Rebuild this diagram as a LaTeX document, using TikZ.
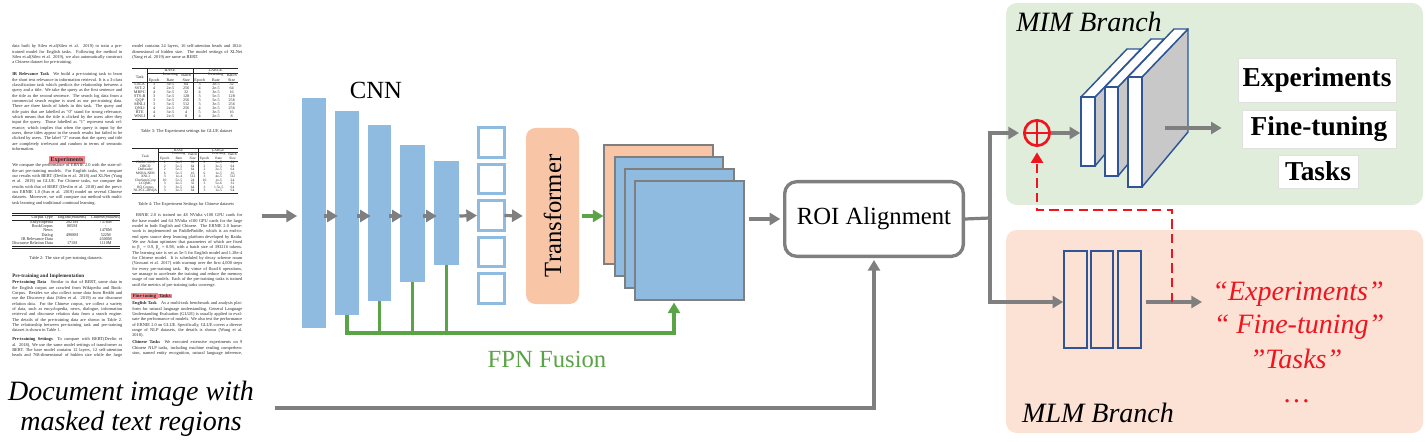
\documentclass[tikz,border=0pt]{standalone}
\usepackage{fontspec}
\usepackage{graphicx}
\setmainfont{Liberation Serif}
\usetikzlibrary{arrows.meta,fit,calc}
\definecolor{cnnblue}{HTML}{8FBBE0}
\definecolor{peach}{HTML}{F9C5A7}
\definecolor{arrgray}{HTML}{7F7F7F}
\definecolor{fpngreen}{HTML}{5AA346}
\definecolor{mimbg}{HTML}{DFEDDA}
\definecolor{mlmbg}{HTML}{FCE1D5}
\definecolor{slabblue}{HTML}{2F5597}
\definecolor{slabgray}{HTML}{C8C8C8}
\definecolor{redc}{HTML}{F0141E}
\definecolor{hl}{HTML}{F2868D}
\newlength{\cw}\setlength{\cw}{82.5pt}
\newcommand{\jl}[1]{\makebox[\cw][s]{#1}\\}
\newcommand{\doctxt}{\fontsize{3.3}{4.0}\selectfont}
\newcommand{\mainlab}{\fontsize{18.5}{22}\selectfont}
\newcommand{\caplab}{\fontsize{21}{25}\selectfont\itshape}
\newcommand{\brlab}{\fontsize{21}{25}\selectfont\itshape}
\newcommand{\boldlab}{\fontsize{20.5}{24}\selectfont\bfseries}
\newcommand{\tabfont}{\fontsize{5}{5.6}\selectfont\setlength{\tabcolsep}{2pt}\renewcommand{\arraystretch}{0.9}}
\newcommand{\sethead}{\hline
 & \multicolumn{3}{c|}{BASE} & \multicolumn{3}{c}{LARGE}\\ \cline{2-7}
 \raisebox{1.2ex}[0pt][0pt]{Task} & Epoch & \shortstack{Learning\\Rate} & \shortstack{Batch\\Size} & Epoch & \shortstack{Learning\\Rate} & \shortstack{Batch\\Size}\\ \hline}

\begin{document}
\begin{tikzpicture}[x=0.75pt,y=-0.75pt,
  garrow/.style={draw=arrgray, line width=2.4pt, -{Triangle[length=8pt,width=9pt]}},
  gline/.style={draw=arrgray, line width=2.4pt},
  fpnarrow/.style={draw=fpngreen, line width=2.4pt, -{Triangle[length=8pt,width=9pt]}},
  cnnblk/.style={fill=cnnblue, inner sep=0pt},
  sqbox/.style={draw=cnnblue, line width=2.5pt, fill=white, inner sep=0pt},
  sheet/.style={draw=arrgray, line width=0.8pt, inner sep=0pt},
  slabside/.style={fill=slabgray, draw=slabblue, line width=1.1pt, line join=round},
  slabtop/.style={fill=white, draw=slabblue, line width=1.1pt, line join=round},
  slabfront/.style={fill=white, draw=slabblue, line width=1.1pt, inner sep=0pt},
  mlmblk/.style={draw=slabblue, line width=1.2pt, inner sep=0pt},
  imgbox/.style={fill=white, draw=black!12, line width=0.5pt, inner sep=0pt, font=\boldlab},
  doc/.style={anchor=north west, inner sep=0pt, text=black!85, font=\doctxt},
  hlbox/.style={fill=hl, inner xsep=1pt, inner ysep=0.6pt, text=black!85},
  reddash/.style={draw=redc, line width=2.2pt, dash pattern=on 7pt off 4pt, -{Triangle[length=8pt,width=9pt]}},
  redtxt/.style={font=\brlab, text=redc, anchor=base},
]
\useasboundingbox (0,0) rectangle (1428,442);

% ---------------- document page ----------------
\node[doc] (p1) at (12,44.5) {\parbox{\cw}{\doctxt\noindent
\jl{data built by Sileo et.al(Sileo et al. 2019) to train a pre-}
\jl{trained model for English tasks. Following the method in}
\jl{Sileo et.al(Sileo et al. 2019), we also automatically construct}
a Chinese dataset for pre-training.}};

\node[doc] (p2) at (12,72.5) {\parbox{\cw}{\doctxt\noindent
\jl{\textbf{IR Relevance Task}\quad We build a pre-training task to learn}
\jl{the short text relevance in information retrieval. It is a 3-class}
\jl{classification task which predicts the relationship between a}
\jl{query and a title. We take the query as the first sentence and}
\jl{the title as the second sentence. The search log data from a}
\jl{commercial search engine is used as our pre-training data.}
\jl{There are three kinds of labels in this task. The query and}
\jl{title pairs that are labelled as ``0'' stand for strong relevance,}
\jl{which means that the title is clicked by the users after they}
\jl{input the query. Those labelled as ``1'' represent weak rel-}
\jl{evance, which implies that when the query is input by the}
\jl{users, these titles appear in the search results but failed to be}
\jl{clicked by users. The label ``2'' means that the query and title}
\jl{are completely irrelevant and random in terms of semantic}
information.}};

\node[hlbox, font=\fontsize{4.5}{5}\selectfont\bfseries] (hl1) at (67,160) {Experiments};

\node[doc] (p3) at (12,163.5) {\parbox{\cw}{\doctxt\noindent
\jl{We compare the performance of ERNIE 2.0 with the state-of-}
\jl{the-art pre-training models. For English tasks, we compare}
\jl{our results with BERT (Devlin et al. 2018) and XLNet (Yang}
\jl{et al. 2019) on GLUE. For Chinese tasks, we compare the}
\jl{results with that of BERT (Devlin et al. 2018) and the previ-}
\jl{ous ERNIE 1.0 (Sun et al. 2019) model on several Chinese}
\jl{datasets. Moreover, we will compare our method with multi-}
task learning and traditional continual learning.}};

\node[doc] (tab2) at (12,213) {\tabfont\resizebox*{81pt}{26.25pt}{\begin{tabular}{@{}r@{\hspace{6pt}}c@{\hspace{6pt}}c@{}}
\hline\hline
Corpus Type & English(\#tokens) & Chinese(\#tokens)\\ \hline
Encyclopedia & 2021M & 7378M\\
BookCorpus & 805M & -\\
News & - & 1478M\\
Dialog & 4908M & 522M\\
IR Relevance Data & - & 4500M\\
Discourse Relation Data & 171M & 1110M\\
\hline\hline
\end{tabular}}};
\node[font=\doctxt, text=black!85] (cap2t) at (66,258) {Table 2: The size of pre-training datasets.};

\node[anchor=west, inner sep=0pt, text=black!85, font=\fontsize{3.8}{4.4}\selectfont\bfseries] (h1) at (12,276) {Pre-training and Implementation};

\node[doc] (p4) at (12,280.5) {\parbox{\cw}{\doctxt\noindent
\jl{\textbf{Pre-training Data}\quad Similar to that of BERT, some data in}
\jl{the English corpus are crawled from Wikipedia and Book-}
\jl{Corpus. Besides we also collect some data from Reddit and}
\jl{use the Discovery data (Sileo et al. 2019) as our discourse}
\jl{relation data. For the Chinese corpus, we collect a variety}
\jl{of data, such as encyclopedia, news, dialogue, information}
\jl{retrieval and discourse relation data from a search engine.}
\jl{The details of the pre-training data are shown in Table 2.}
\jl{The relationship between pre-training task and pre-training}
dataset is shown in Table 1.}};

\node[doc] (p5) at (12,337.5) {\parbox{\cw}{\doctxt\noindent
\jl{\textbf{Pre-training Settings}\quad To compare with BERT(Devlin et}
\jl{al. 2018), We use the same model settings of transformer as}
\jl{BERT. The base model contains 12 layers, 12 self-attention}
\makebox[\cw][s]{heads and 768-dimensional of hidden size while the large}}};

\node[doc] (p6) at (132,44.5) {\parbox{\cw}{\doctxt\noindent
\jl{model contains 24 layers, 16 self-attention heads and 1024-}
\jl{dimensional of hidden size. The model settings of XLNet}
(Yang et al. 2019) are same as BERT.}};

\node[doc] (tab3) at (132,68) {\tabfont\resizebox*{79.5pt}{38.25pt}{\begin{tabular}{c|ccc|ccc}
\sethead
CoLA & 3 & 3e-5 & 64 & 3 & 3e-5 & 32\\
SST-2 & 4 & 2e-5 & 256 & 4 & 2e-5 & 64\\
MRPC & 4 & 3e-5 & 32 & 4 & 3e-5 & 16\\
STS-B & 3 & 5e-5 & 128 & 3 & 5e-5 & 128\\
QQP & 3 & 3e-5 & 256 & 3 & 5e-5 & 256\\
MNLI & 3 & 3e-5 & 512 & 3 & 3e-5 & 256\\
QNLI & 4 & 2e-5 & 256 & 4 & 2e-5 & 256\\
RTE & 4 & 3e-5 & 4 & 5 & 3e-5 & 16\\
WNLI & 4 & 2e-5 & 8 & 4 & 2e-5 & 8\\
\hline
\end{tabular}}};
\node[font=\doctxt, text=black!85] (cap3t) at (186.5,131) {Table 3: The Experiment settings for GLUE dataset};

\node[doc] (tab4) at (132,148) {\tabfont\resizebox*{79.5pt}{33.75pt}{\begin{tabular}{c|ccc|ccc}
\sethead
CMRC 2018 & 2 & 3e-5 & 64 & 2 & 3e-5 & 64\\
DRCD & 2 & 5e-5 & 64 & 2 & 3e-5 & 64\\
DuReader & 2 & 5e-5 & 64 & 2 & 2e-5 & 64\\
MSRA-NER & 6 & 5e-5 & 16 & 6 & 1e-5 & 16\\
XNLI & 3 & 1e-4 & 512 & 3 & 4e-5 & 512\\
ChnSentiCorp & 10 & 5e-5 & 24 & 10 & 1e-5 & 24\\
LCQMC & 3 & 2e-5 & 32 & 3 & 5e-6 & 32\\
BQ Corpus & 3 & 3e-5 & 64 & 3 & 1.5e-5 & 64\\
NLPCC-DBQA & 3 & 2e-5 & 64 & 3 & 1e-5 & 64\\
\hline
\end{tabular}}};
\node[font=\doctxt, text=black!85] (cap4t) at (186,204) {Table 4: The Experiment Settings for Chinese datasets};

\node[doc] (p7) at (132,213.5) {\parbox{\cw}{\doctxt\noindent
\jl{\hspace*{0.8em}ERNIE 2.0 is trained on 48 NVidia v100 GPU cards for}
\jl{the base model and 64 NVidia v100 GPU cards for the large}
\jl{model in both English and Chinese. The ERNIE 2.0 frame-}
\jl{work is implemented on PaddlePaddle, which is an end-to-}
\jl{end open source deep learning platform developed by Baidu.}
\jl{We use Adam optimizer that parameters of which are fixed}
\jl{to β\textsubscript{1} = 0.9, β\textsubscript{2} = 0.98, with a batch size of 393216 tokens.}
\jl{The learning rate is set as 5e-5 for English model and 1.28e-4}
\jl{for Chinese model. It is scheduled by decay scheme noam}
\jl{(Vaswani et al. 2017) with warmup over the first 4,000 steps}
\jl{for every pre-training task. By virtue of float16 operations,}
\jl{we manage to accelerate the training and reduce the memory}
\jl{usage of our models. Each of the pre-training tasks is trained}
until the metrics of pre-training tasks converge.}};

\node[hlbox, font=\fontsize{3.5}{4}\selectfont\bfseries] (hl2) at (144.5,296) {Fine-tuning};
\node[hlbox, font=\fontsize{3.5}{4}\selectfont\bfseries] (hl3) at (165,296) {Tasks};

\node[doc] (p8) at (132,301.5) {\parbox{\cw}{\doctxt\noindent
\jl{\textbf{English Task}\quad As a multi-task benchmark and analysis plat-}
\jl{form for natural language understanding, General Language}
\jl{Understanding Evaluation (GLUE) is usually applied to eval-}
\jl{uate the performance of models. We also test the performance}
\jl{of ERNIE 2.0 on GLUE. Specifically, GLUE covers a diverse}
\jl{range of NLP datasets, the details is shown (Wang et al.}
2018).}};

\node[doc] (p9) at (132,340.5) {\parbox{\cw}{\doctxt\noindent
\jl{\textbf{Chinese Tasks}\quad We executed extensive experiments on 9}
\jl{Chinese NLP tasks, including machine reading comprehen-}
\makebox[\cw][s]{sion, named entity recognition, natural language inference,}}};

\node[font=\caplab, anchor=base] (cap1) at (131,400) {Document image with};
\node[font=\caplab, anchor=base] (capb) at (131,430) {masked text regions};

% ---------------- branch backgrounds ----------------
\node[fill=mimbg, rounded corners=8pt, inner sep=0pt, fit={(1006,3)(1423,205)}] (mim) {};
\node[fill=mlmbg, rounded corners=8pt, inner sep=0pt, fit={(1006,230)(1423,433)}] (mlm) {};

% ---------------- CNN ----------------
\node[cnnblk, fit={(302,98)(326,328)}] (b1) {};
\node[cnnblk, fit={(335,111)(359,315)}] (b2) {};
\node[cnnblk, fit={(368,125)(391,301)}] (b3) {};
\node[cnnblk, fit={(400,145)(425,282)}] (b4) {};
\node[cnnblk, fit={(434,161)(459,265)}] (b5) {};
\node[font=\mainlab, anchor=base] (cnnlab) at (376,99) {CNN};

\coordinate (docin) at (262,216);
\draw[garrow, shorten >=3.5pt] (docin) -- (docin -| b1.west);
\foreach \a/\b in {b1/b2,b2/b3,b3/b4,b4/b5}
  \draw[garrow] ($(\a.east |- docin)+(-2,0)$) -- ($(\b.west |- docin)+(3,0)$);

\foreach \i/\t in {1/126,2/162.5,3/199,4/235.5,5/272}
  \node[sqbox, fit={(478.7,\t+1.7)(504.3,\t+31.3)}] (sq\i) {};
\draw[garrow] (b5.east |- docin) -- (sq3.west);

\node[fill=peach, rounded corners=7pt, inner sep=0pt, fit={(526,128)(579,304)}] (tr) {};
\node[font=\mainlab, rotate=90] (trlab) at (tr.center) {Transformer};
\draw[garrow] ($(sq3.east)+(-1.5,0)$) -- ($(tr.west)+(-3,0)$);

\node[sheet, fill=peach, fit={(604,145)(713,264)}] (s1) {};
\node[sheet, fill=cnnblue, fit={(615,157)(723,276)}] (s2) {};
\node[sheet, fill=cnnblue, fit={(625,169)(734,288)}] (s3) {};
\node[sheet, fill=cnnblue, fit={(635,181)(744,300)}] (s4) {};
\draw[fpnarrow] ($(tr.east)+(3,0)$) -- (tr.east -| s1.west);

\coordinate (fpnc) at (674,333);
\draw[fpnarrow, shorten >=1.5pt] (b2.south) |- (fpnc) -- (fpnc |- s4.south);
\foreach \b in {b3,b4,b5} \draw[draw=fpngreen, line width=2.4pt] (\b.south) -- (\b.south |- fpnc);
\node[font=\mainlab, text=fpngreen, anchor=base] (fpnlab) at (547,367) {FPN Fusion};

% ---------------- ROI ----------------
\node[draw=arrgray, line width=2.5pt, rounded corners=9pt, minimum width=134pt, minimum height=56pt, inner sep=0pt, fill=white, font=\mainlab] (roi) at (874,219) {ROI Alignment};
\draw[garrow, shorten <=3pt, shorten >=2pt] (s4.east |- roi.west) -- (roi.west);
\coordinate (docout) at (275,408);
\draw[garrow, shorten >=1.5pt] (docout) -| (roi.south);

\coordinate (split) at (990,218);
\draw[gline] (roi.east) -- (split);

% ---------------- MIM ----------------
\node[circle, draw=redc, line width=2pt, minimum size=19pt, inner sep=0pt] (plus) at (1037,133) {};
\draw[redc, line width=2pt] (plus.north) -- (plus.south) (plus.west) -- (plus.east);
\draw[garrow, shorten >=3pt] (split) |- (plus.west);
\node[font=\brlab, anchor=base] (mimlab) at (1089,32) {MIM Branch};

\foreach \n/\xa/\ya/\xb/\yb in {1/1081/97/1095/166, 2/1105/87/1118/176, 3/1128/77/1142/187} {
  \path[slabside] (\xb,\ya) -- ++(46,-48) -- (\xb+46,\yb-55) -- (\xb,\yb) -- cycle;
  \path[slabtop] (\xa,\ya) -- ++(46,-48) -- (\xb+46,\ya-48) -- (\xb,\ya) -- cycle;
  \node[slabfront, fit={(\xa,\ya)(\xb,\yb)}] (m\n) {};
}
\draw[garrow] (plus.east) -- (m1.west |- plus.east);

\node[imgbox, minimum width=118.5pt, minimum height=33pt] (t1) at (1317,80) {Experiments};
\node[imgbox, minimum width=115.5pt, minimum height=28.5pt] (t2) at (1319,129) {Fine-tuning};
\node[imgbox, minimum width=60pt, minimum height=24.75pt] (t3) at (1318,171.5) {Tasks};
\coordinate (mimout) at (1165,128);
\draw[garrow, shorten >=15pt] (mimout) -- (mimout -| t2.west);

% ---------------- MLM ----------------
\node[mlmblk, fit={(1064,251)(1087,348)}] (l1) {};
\node[mlmblk, fit={(1091,251)(1113,348)}] (l2) {};
\node[mlmblk, fit={(1118,251)(1141,348)}] (l3) {};
\draw[garrow] (split) |- ($(l1.west)+(0,2.5)$);
\coordinate (mlmout) at (1202,302);
\draw[garrow] ($(l3.east)+(4,2.5)$) -- (mlmout);
\node[font=\brlab, anchor=base] (mlmlab) at (1098,422) {MLM Branch};

\node[redtxt] (r1) at (1298,300) {“Experiments”};
\node[redtxt] (r2) at (1299,333) {“ Fine-tuning”};
\node[redtxt] (r3) at (1296,368) {”Tasks”};
\node[redtxt] (r4) at (1297,402) {…};

\coordinate (redsrc) at (1172,302);
\draw[reddash, shorten >=4pt] (redsrc) -- ++(0,-92) -| (plus.south);
\end{tikzpicture}
\end{document}
